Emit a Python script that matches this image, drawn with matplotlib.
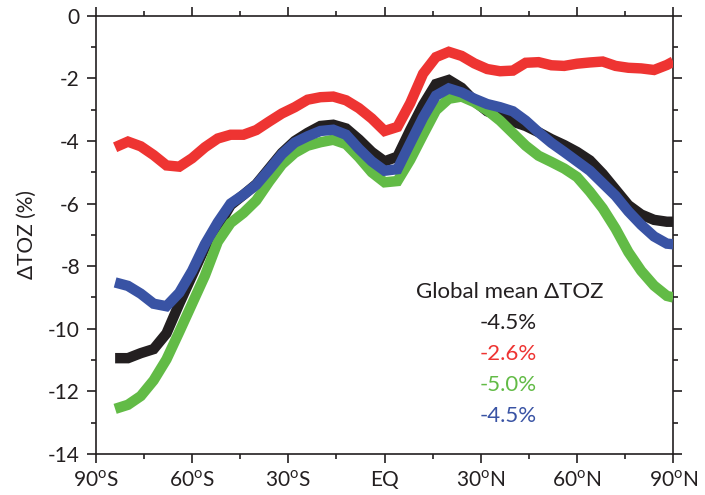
import numpy as np
import matplotlib
matplotlib.use('Agg')
import matplotlib.pyplot as plt
from matplotlib.ticker import MultipleLocator

plt.rcParams['font.family'] = ['Lato', 'DejaVu Sans']
plt.rcParams['mathtext.fontset'] = 'custom'
plt.rcParams['mathtext.rm'] = 'Lato'

lat = [-84, -80, -76, -72, -68, -64, -60, -56, -52, -48, -44, -40, -36, -32,
       -28, -24, -20, -16, -12, -8, -4, 0, 4, 8, 12, 16, 20, 24, 28, 32, 36,
       40, 44, 48, 52, 56, 60, 64, 68, 72, 76, 80, 84, 88, 90]

toz_black = [-10.94, -10.94, -10.78, -10.65, -10.15, -9.2, -8.3, -7.4, -6.75,
             -6.05, -5.72, -5.38, -4.88, -4.38, -4.0, -3.74, -3.52, -3.48,
             -3.60, -3.95, -4.35, -4.65, -4.50, -3.65, -2.85, -2.18, -2.05,
             -2.30, -2.72, -3.05, -3.20, -3.38, -3.52, -3.72, -3.94, -4.13,
             -4.35, -4.62, -5.05, -5.55, -6.05, -6.35, -6.52, -6.58, -6.58]
toz_red = [-4.2, -4.02, -4.17, -4.45, -4.78, -4.82, -4.55, -4.2, -3.92, -3.80,
           -3.80, -3.65, -3.38, -3.12, -2.92, -2.68, -2.60, -2.58, -2.70,
           -2.95, -3.28, -3.68, -3.55, -2.79, -1.85, -1.32, -1.15, -1.28,
           -1.52, -1.70, -1.77, -1.75, -1.50, -1.48, -1.58, -1.60, -1.53,
           -1.49, -1.46, -1.60, -1.66, -1.68, -1.73, -1.57, -1.46]
toz_green = [-12.56, -12.43, -12.15, -11.65, -10.98, -10.1, -9.2, -8.3, -7.22,
             -6.62, -6.3, -5.9, -5.3, -4.75, -4.38, -4.15, -4.04, -3.96,
             -4.10, -4.52, -5.0, -5.32, -5.28, -4.60, -3.80, -3.02, -2.65,
             -2.58, -2.76, -3.02, -3.35, -3.75, -4.15, -4.47, -4.67, -4.88,
             -5.15, -5.62, -6.15, -6.80, -7.55, -8.15, -8.62, -8.95, -9.0]
toz_blue = [-8.52, -8.63, -8.88, -9.2, -9.28, -8.85, -8.15, -7.3, -6.6, -6.0,
            -5.72, -5.40, -4.92, -4.42, -4.05, -3.85, -3.68, -3.64, -3.80,
            -4.25, -4.65, -4.95, -4.9, -4.07, -3.25, -2.55, -2.32, -2.45,
            -2.65, -2.82, -2.92, -3.05, -3.35, -3.72, -4.06, -4.35, -4.65,
            -4.95, -5.35, -5.75, -6.25, -6.68, -7.05, -7.28, -7.30]

global_mean = ['-4.5%', '-2.6%', '-5.0%', '-4.5%']
colors = ['#231f20', '#ee3432', '#62bb46', '#3953a4']

xticks = [-90, -60, -30, 0, 30, 60, 90]
xticklabels = [r'90$^{\rm o}$S', r'60$^{\rm o}$S', r'30$^{\rm o}$S', 'EQ',
               r'30$^{\rm o}$N', r'60$^{\rm o}$N', r'90$^{\rm o}$N']

fig = plt.figure(figsize=(7.05, 4.95), dpi=100)
ax = fig.add_axes([0.136, 0.083, 0.819, 0.885])

lw = 7.5
ax.plot(lat, toz_black, color=colors[0], lw=lw, solid_capstyle='butt', solid_joinstyle='miter', zorder=2)
ax.plot(lat, toz_red, color=colors[1], lw=lw, solid_capstyle='butt', solid_joinstyle='miter', zorder=3)
ax.plot(lat, toz_green, color=colors[2], lw=lw, solid_capstyle='butt', solid_joinstyle='miter', zorder=3)
ax.plot(lat, toz_blue, color=colors[3], lw=lw, solid_capstyle='butt', solid_joinstyle='miter', zorder=4)

ax.set_xlim(-90, 90)
ax.set_ylim(-14, 0)
ax.set_xticks(xticks)
ax.set_xticklabels(xticklabels)
ax.xaxis.set_minor_locator(MultipleLocator(15))
ax.set_yticks(np.arange(-14, 1, 2))
ax.set_yticklabels([str(v) for v in range(-14, 1, 2)])
ax.yaxis.set_minor_locator(MultipleLocator(1))
ax.tick_params(which='both', direction='out', top=True, right=True, width=1.2,
               labelsize=15, colors='#231f20')
ax.tick_params(which='major', length=6.5, pad=5)
ax.tick_params(which='minor', length=3.5)
for s in ax.spines.values():
    s.set_linewidth(1.2)
    s.set_color('#231f20')

ax.set_ylabel('\u0394TOZ (%)', fontsize=15, color='#231f20', labelpad=8)

# global mean values listed under a heading, coloured like the curves
ax.text(0.717, 0.370, 'Global mean \u0394TOZ', transform=ax.transAxes,
        ha='center', va='center', fontsize=16, color='#231f20')
for i, (txt, c) in enumerate(zip(global_mean, colors)):
    ax.text(0.714, 0.299 - i * 0.0708, txt, transform=ax.transAxes,
            ha='center', va='center', fontsize=16, color=c)

fig.savefig('out.png', dpi=100)
